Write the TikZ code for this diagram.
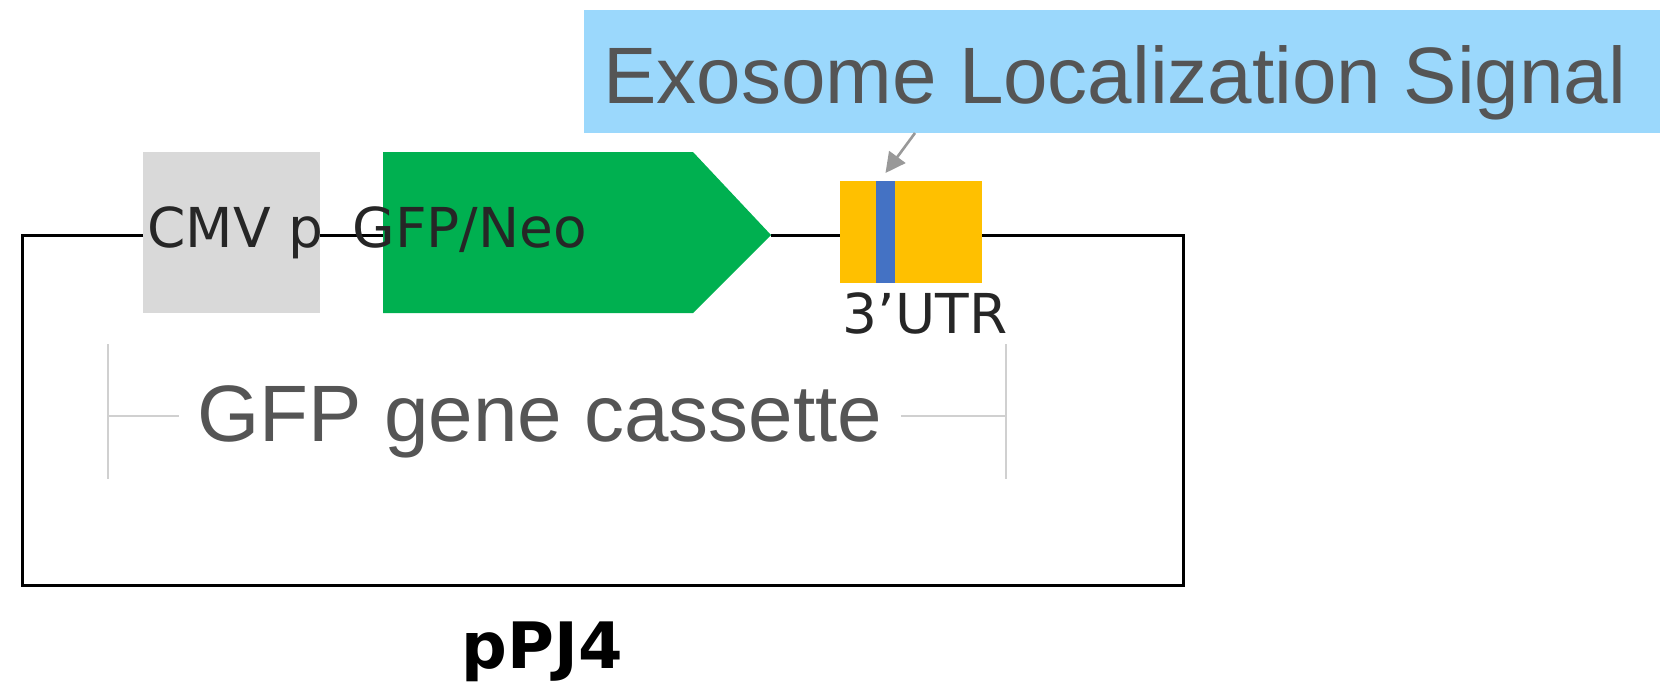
\documentclass[tikz,border=0pt]{standalone}
\usepackage{fontspec}
\setmainfont{Liberation Sans}
\newfontfamily\verdfont{DejaVu Sans}
\usetikzlibrary{positioning,arrows.meta}
\definecolor{cmvgray}{RGB}{217,217,217}
\definecolor{gfpgreen}{RGB}{0,176,80}
\definecolor{utrgold}{RGB}{255,192,0}
\definecolor{elsblue}{RGB}{68,114,196}
\definecolor{skyblue}{RGB}{155,216,252}
\definecolor{textgray}{RGB}{85,85,85}
\definecolor{rulegray}{RGB}{208,208,208}

\begin{document}
\begin{tikzpicture}[x=0.5pt,y=-0.5pt,
	feature/.style={inner sep=0pt, outer sep=0pt},
	backbone/.style={line width=1.5pt, black},
	bracket/.style={line width=1.3pt, rulegray},
	smalltext/.style={font=\verdfont\fontsize{27.5}{30}\selectfont, text=black!85, inner sep=0pt},
	bigtext/.style={font=\fontsize{40}{44}\selectfont, text=textgray, inner sep=0pt}]
	\useasboundingbox (0,0) rectangle (1660,687);

	\coordinate (tl) at (22,235);
	\coordinate (bl) at (22,585);
	\coordinate (br) at (1183,585);
	\coordinate (tr) at (1183,235);

	\node [feature, fill=cmvgray, minimum width=88.5pt, minimum height=80.5pt] (cmv) at (231.5,232.5) {};
	\coordinate (gfpw) at (383,235);
	\coordinate (gfptip) at (771,235);
	\node [feature, fill=utrgold, minimum width=71pt, minimum height=51pt] (utr) at (911,232) {};
	\node [feature, fill=elsblue, minimum width=9.5pt, minimum height=51pt] (els) at (885.5,232) {};

	\draw [backbone] (cmv.west |- tl) -- (tl) -- (bl) -- (br) -- (tr) -- (utr.east |- tr);
	\draw [backbone] (cmv.east |- tl) -- (gfpw);
	\draw [backbone] (gfptip) -- (utr.west |- tl);
	\fill [gfpgreen] (383,152) -- (693,152) -- (gfptip) -- (693,313) -- (383,313) -- cycle;
	\node [feature, fill=utrgold, minimum width=71pt, minimum height=51pt] at (utr) {};
	\node [feature, fill=elsblue, minimum width=9.5pt, minimum height=51pt] at (els) {};

	\node [smalltext, anchor=base west] (cmvlabel) at (147,247) {CMV p};
	\node [smalltext, anchor=base west] (gfplabel) at (352,247) {GFP/Neo};
	\node [smalltext, anchor=base] (utrlabel) at (925,333) {3’UTR};

	\node [feature, fill=skyblue, minimum width=538pt, minimum height=61.5pt] (elsbox) at (1122,71.5) {};
	\node [bigtext, anchor=base west] (elstext) at (603,103) {Exosome Localization Signal};
	\draw [gray!80, line width=1.3pt, -{Triangle[length=10pt,width=10pt]}] (915,133) -- ([yshift=4pt]els.north);

	\node [bigtext, anchor=base, inner xsep=9pt] (cassette) at (540,441) {GFP gene cassette};
	\coordinate (cl) at (108,416);
	\coordinate (cr) at (1006,416);
	\draw [bracket] (108,344) -- (108,479);
	\draw [bracket] (1006,344) -- (1006,479);
	\draw [bracket] (cl) -- (cl -| cassette.west);
	\draw [bracket] (cassette.east |- cr) -- (cr);

	\node [font=\verdfont\bfseries\fontsize{32}{36}\selectfont, anchor=base, inner sep=0pt] (plasmid) at (542,668) {pPJ4};

\end{tikzpicture}
\end{document}
